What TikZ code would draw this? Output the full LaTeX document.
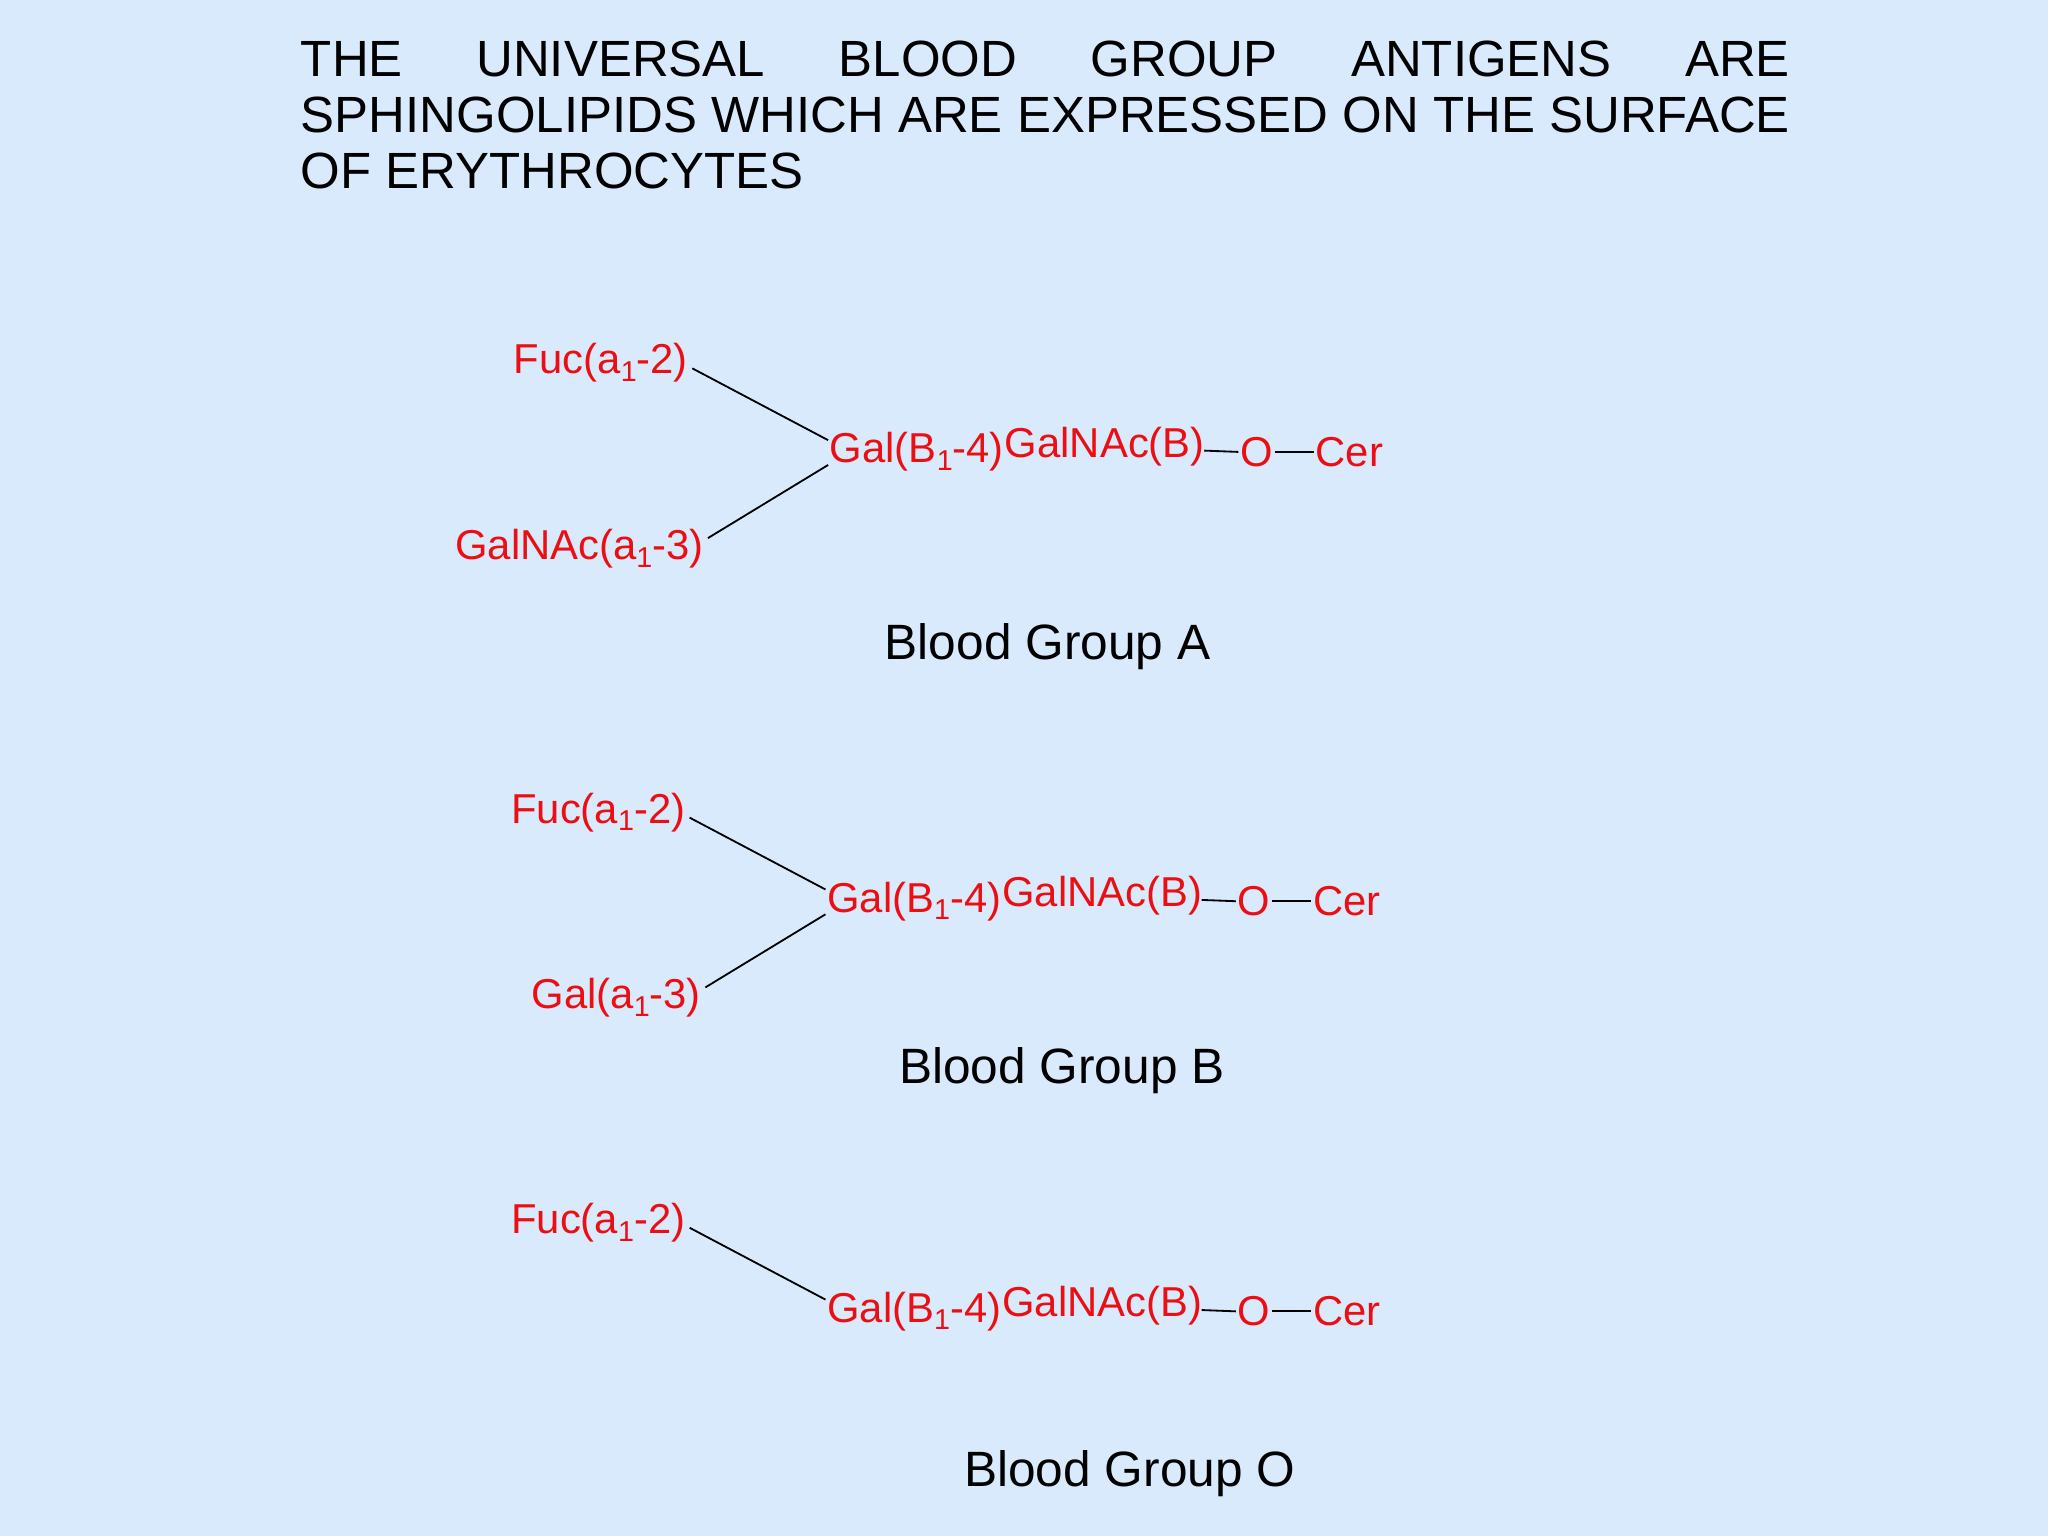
\documentclass[tikz,border=0pt]{standalone}
\usepackage{fontspec}
\setmainfont{Liberation Sans}
\definecolor{bg}{RGB}{217,234,252}
\definecolor{lab}{RGB}{235,15,20}
\newcommand{\sbone}{\raisebox{-0.35ex}{\fontsize{11}{12}\selectfont 1}}
\begin{document}
\begin{tikzpicture}[x=0.5pt,y=-0.5pt,
  r/.style={text=lab,font=\fontsize{16}{18}\selectfont,inner sep=0.5pt},
  grp/.style={font=\fontsize{19}{22}\selectfont,inner sep=0pt},
  ln/.style={line width=0.7pt}]
\fill[bg] (0,0) rectangle (1568,1176);
\useasboundingbox (0,0) rectangle (1568,1176);
\node[anchor=north west,inner sep=0pt,font=\fontsize{19.5}{21.5}\selectfont] (title) at (230,31)
 {\parbox{570pt}{THE UNIVERSAL BLOOD GROUP ANTIGENS ARE\linebreak SPHINGOLIPIDS WHICH ARE EXPRESSED ON THE SURFACE\linebreak OF ERYTHROCYTES}};
% Group A
\node[r,anchor=east] (fa) at (528,278) {Fuc(a\sbone-2)};
\node[r,anchor=west] (ga) at (634,346) {Gal(B\sbone-4)};
\node[r,anchor=east] (na) at (540,420) {GalNAc(a\sbone-3)};
\node[r,anchor=west] (ca) at (768,342) {GalNAc(B)};
\node[r] (oa) at (962,346) {O};
\node[r,anchor=west] (cea) at (1006,346) {Cer};
\draw[ln] (fa.east)++(2,4) -- ([yshift=4.5pt]ga.west);
\draw[ln] (na.east)++(2,-8) -- ([yshift=-5pt]ga.west);
\draw[ln] (922,345) -- (oa.west); \draw[ln] (oa.east) -- (cea.west);
\node[grp] (la) at (802,495) {Blood Group A};
% Group B
\node[r,anchor=east] (fb) at (526,622) {Fuc(a\sbone-2)};
\node[r,anchor=west] (gb) at (632,690) {Gal(B\sbone-4)};
\node[r,anchor=east] (nb) at (538,764) {Gal(a\sbone-3)};
\node[r,anchor=west] (cb) at (766,686) {GalNAc(B)};
\node[r] (ob) at (960,690) {O};
\node[r,anchor=west] (ceb) at (1004,690) {Cer};
\draw[ln] (fb.east)++(2,4) -- ([yshift=4.5pt]gb.west);
\draw[ln] (nb.east)++(2,-8) -- ([yshift=-5pt]gb.west);
\draw[ln] (920,689) -- (ob.west); \draw[ln] (ob.east) -- (ceb.west);
\node[grp] (lb) at (813,820) {Blood Group B};
% Group O
\node[r,anchor=east] (fo) at (526,936) {Fuc(a\sbone-2)};
\node[r,anchor=west] (go) at (632,1004) {Gal(B\sbone-4)};
\node[r,anchor=west] (co) at (766,1000) {GalNAc(B)};
\node[r] (oo) at (960,1004) {O};
\node[r,anchor=west] (ceo) at (1004,1004) {Cer};
\draw[ln] (fo.east)++(2,4) -- ([yshift=4.5pt]go.west);
\draw[ln] (920,1003) -- (oo.west); \draw[ln] (oo.east) -- (ceo.west);
\node[grp] (lo) at (865,1128) {Blood Group O};
\end{tikzpicture}
\end{document}
